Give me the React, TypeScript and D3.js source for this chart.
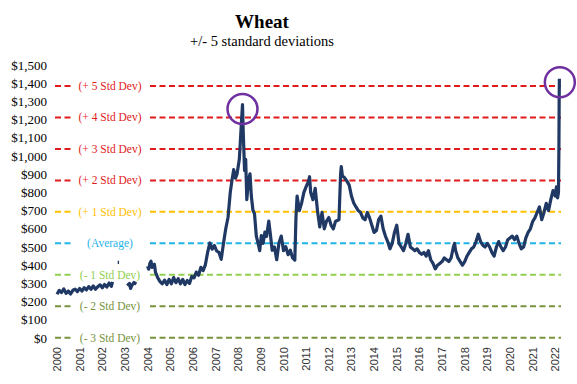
import React from "react";
import * as d3 from "d3";

// wheat price, $ per bushel x100, [decimal year, price]; null = gap in the data
const wheatSeries: [number, number | null][] = [
  [2000.0, 240], [2000.1, 262], [2000.2, 250], [2000.3, 270], [2000.4, 245], [2000.5, 258],
  [2000.6, 242], [2000.7, 262], [2000.8, 268], [2000.9, 255], [2001.0, 272], [2001.1, 258],
  [2001.2, 276], [2001.3, 264], [2001.4, 282], [2001.5, 268], [2001.6, 286], [2001.7, 268],
  [2001.8, 282], [2001.9, 292], [2002.0, 276], [2002.1, 294], [2002.2, 280], [2002.3, 302],
  [2002.4, 284], [2002.45, 308], [2002.5, null],
  [2002.68, 415], [2002.74, 415], [2002.8, null],
  [2003.1, 288], [2003.2, 300], [2003.25, 272], [2003.3, 288], [2003.4, 305], [2003.5, 296], [2003.6, null],
  [2004.0, 395], [2004.05, 378], [2004.1, 410], [2004.15, 422], [2004.2, 388], [2004.3, 405],
  [2004.35, 360], [2004.45, 330], [2004.55, 310], [2004.65, 298], [2004.75, 318], [2004.85, 294],
  [2004.95, 322], [2005.05, 298], [2005.15, 332], [2005.25, 304], [2005.35, 326], [2005.45, 298],
  [2005.55, 322], [2005.65, 294], [2005.75, 316], [2005.85, 300], [2005.95, 338], [2006.05, 330],
  [2006.15, 362], [2006.25, 345], [2006.35, 388], [2006.45, 370], [2006.55, 402], [2006.65, 470],
  [2006.75, 522], [2006.85, 488], [2006.95, 508], [2007.05, 478], [2007.15, 470], [2007.25, 432],
  [2007.35, 520], [2007.45, 600], [2007.55, 662], [2007.65, 800], [2007.72, 862], [2007.8, 925],
  [2007.88, 878], [2007.95, 902], [2008.05, 982], [2008.1, 1090], [2008.15, 1200], [2008.19, 1282],
  [2008.22, 1140], [2008.28, 920], [2008.33, 982], [2008.38, 760], [2008.45, 862], [2008.52, 902],
  [2008.58, 780], [2008.65, 702], [2008.72, 682], [2008.8, 560], [2008.88, 520], [2008.95, 480],
  [2009.02, 562], [2009.1, 520], [2009.18, 582], [2009.25, 558], [2009.35, 642], [2009.42, 570],
  [2009.5, 482], [2009.6, 500], [2009.7, 430], [2009.8, 522], [2009.9, 560], [2010.0, 480],
  [2010.1, 502], [2010.2, 458], [2010.3, 482], [2010.4, 440], [2010.5, 428], [2010.55, 662],
  [2010.6, 780], [2010.7, 700], [2010.8, 742], [2010.9, 800], [2011.0, 832], [2011.1, 860],
  [2011.15, 886], [2011.2, 800], [2011.3, 760], [2011.4, 822], [2011.5, 700], [2011.6, 610],
  [2011.7, 690], [2011.8, 600], [2011.9, 642], [2012.0, 662], [2012.1, 620], [2012.2, 600],
  [2012.3, 642], [2012.45, 650], [2012.52, 900], [2012.55, 942], [2012.6, 890], [2012.7, 880],
  [2012.8, 862], [2012.9, 840], [2013.0, 780], [2013.1, 742], [2013.2, 720], [2013.3, 700],
  [2013.4, 690], [2013.5, 660], [2013.6, 650], [2013.7, 690], [2013.8, 660], [2013.9, 620],
  [2014.0, 580], [2014.1, 590], [2014.2, 650], [2014.3, 670], [2014.4, 600], [2014.5, 560],
  [2014.6, 530], [2014.7, 490], [2014.8, 520], [2014.9, 580], [2015.0, 620], [2015.1, 520],
  [2015.2, 500], [2015.3, 480], [2015.4, 520], [2015.5, 570], [2015.6, 500], [2015.7, 490],
  [2015.8, 480], [2015.9, 490], [2016.0, 470], [2016.1, 460], [2016.2, 470], [2016.3, 450],
  [2016.4, 480], [2016.5, 430], [2016.6, 410], [2016.7, 380], [2016.8, 400], [2016.9, 410],
  [2017.0, 420], [2017.1, 440], [2017.2, 430], [2017.3, 420], [2017.4, 440], [2017.5, 500],
  [2017.55, 520], [2017.6, 480], [2017.7, 440], [2017.8, 420], [2017.9, 400], [2018.0, 420],
  [2018.1, 450], [2018.2, 470], [2018.3, 490], [2018.4, 500], [2018.5, 530], [2018.6, 570],
  [2018.7, 530], [2018.8, 510], [2018.9, 500], [2019.0, 520], [2019.1, 500], [2019.2, 470],
  [2019.3, 450], [2019.4, 500], [2019.5, 530], [2019.6, 500], [2019.7, 480], [2019.8, 500],
  [2019.9, 540], [2020.0, 550], [2020.1, 560], [2020.2, 540], [2020.3, 560], [2020.4, 520],
  [2020.5, 490], [2020.6, 500], [2020.7, 550], [2020.8, 580], [2020.9, 600], [2021.0, 640],
  [2021.1, 660], [2021.2, 690], [2021.3, 720], [2021.4, 650], [2021.5, 690], [2021.6, 740],
  [2021.7, 700], [2021.8, 760], [2021.9, 810], [2022.0, 780], [2022.05, 830], [2022.1, 770],
  [2022.14, 800], [2022.16, 1050], [2022.17, 1300], [2022.18, 1425],
];

const average = 520;
const stdDev = 173;
const bandSteps = [5, 4, 3, 2, 1, 0, -1, -2, -3];
const bandLabels = [
  "(+ 5 Std Dev)", "(+ 4 Std Dev)", "(+ 3 Std Dev)", "(+ 2 Std Dev)", "(+ 1 Std Dev)",
  "(Average)", "(- 1 Std Dev)", "(- 2 Std Dev)", "(- 3 Std Dev)",
];
const bandColors = [
  "#e01b1b", "#e01b1b", "#e01b1b", "#e01b1b", "#ffc000",
  "#1fb4e6", "#92d050", "#77933c", "#77933c",
];
const yTicks = d3.range(0, 1501, 100);
const xYears = d3.range(2000, 2023);
// spikes circled on the chart: [year, price]
const highlights: [number, number][] = [[2008.19, 1258], [2022.2, 1405]];

const W = 577;
const H = 384;

export default function App() {
  const x = d3.scaleLinear().domain([2000, 2022]).range([57, 555.3]);
  const y = d3.scaleLinear().domain([0, 1500]).range([338, 65]);
  const left = 55;
  const right = 561;

  const line = d3
    .line<[number, number | null]>()
    .defined((d) => d[1] !== null)
    .x((d) => x(d[0]))
    .y((d) => y(d[1] as number));

  const fmt = (v: number) => "$" + d3.format(",")(v);

  return (
    <svg width={W} height={H} style={{ position: "absolute", left: 0, top: 0, background: "#fff" }}>
      <text x={262} y={28} textAnchor="middle" fontFamily="Liberation Serif, serif" fontWeight="bold" fontSize={19}>
        Wheat
      </text>
      <text x={262} y={46} textAnchor="middle" fontFamily="Liberation Serif, serif" fontSize={14.5}>
        +/- 5 standard deviations
      </text>

      {yTicks.map((t) => (
        <text key={t} x={47} y={y(t)} dy="0.35em" textAnchor="end" fontFamily="Liberation Serif, serif" fontSize={13}>
          {fmt(t)}
        </text>
      ))}

      {xYears.map((yr) => (
        <text
          key={yr}
          transform={`translate(${x(yr) + 4},347) rotate(-90)`}
          textAnchor="end"
          fontFamily="Liberation Sans, Arial, sans-serif"
          fontSize={11}
          fill="#333"
        >
          {yr}
        </text>
      ))}

      {bandSteps.map((k, i) => {
        const yy = y(average + k * stdDev);
        return (
          <g key={k}>
            <line x1={left} x2={right} y1={yy} y2={yy} stroke={bandColors[i]} strokeWidth={2} strokeDasharray="6,3.5" />
            <rect x={74} y={yy - 6} width={73} height={12} fill="#fff" />
            <text x={110} y={yy} dy="0.33em" textAnchor="middle" fontFamily="Liberation Serif, serif" fontSize={11.5} fill={bandColors[i]}>
              {bandLabels[i]}
            </text>
          </g>
        );
      })}

      <path d={line(wheatSeries) ?? ""} fill="none" stroke="#1f3864" strokeWidth={3.2} strokeLinejoin="round" />

      {highlights.map(([yr, v]) => (
        <circle key={yr} cx={x(yr)} cy={y(v)} r={15} fill="none" stroke="#7030a0" strokeWidth={2.5} />
      ))}
    </svg>
  );
}
